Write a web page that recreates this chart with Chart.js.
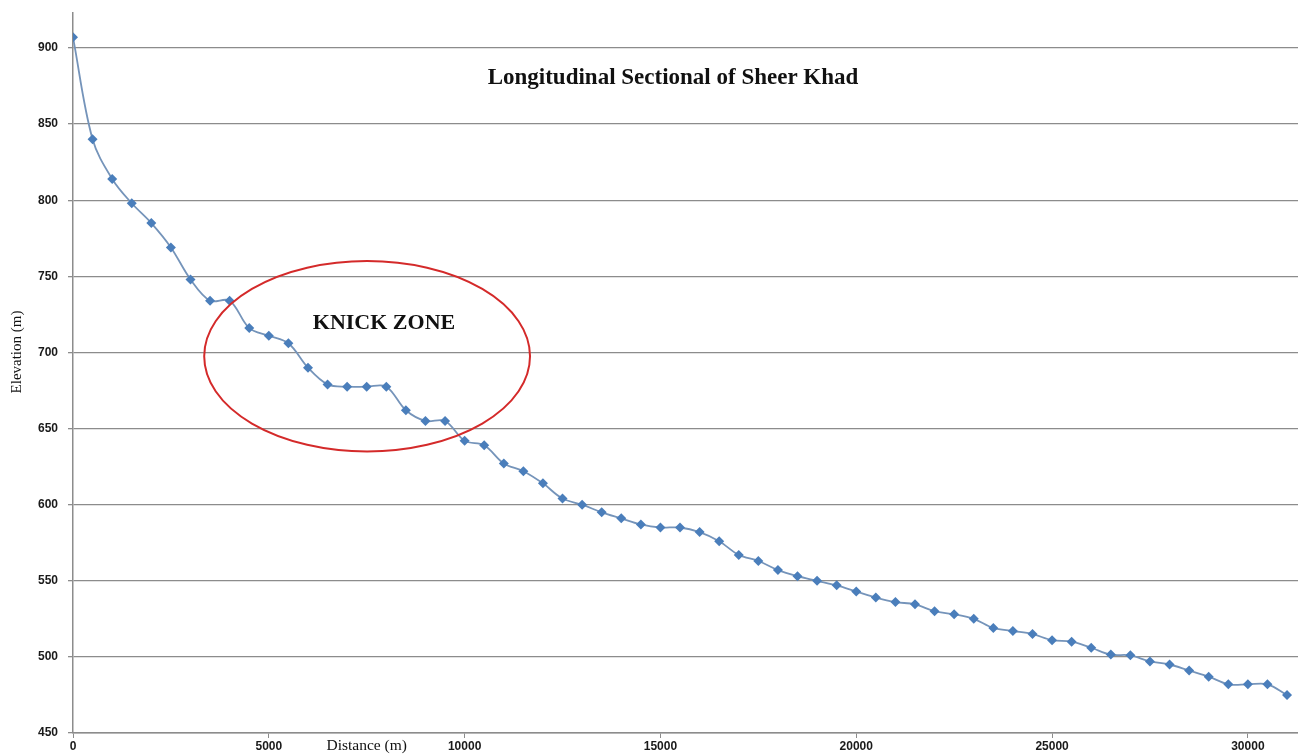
<!DOCTYPE html>
<html>
<head>
<meta charset="utf-8">
<script src="https://cdn.jsdelivr.net/npm/chart.js@4"></script>
<style>
  html, body { margin: 0; padding: 0; background: #fff; }
  #wrap { width: 1298px; height: 754px; position: relative; }
</style>
</head>
<body>
<div id="wrap"><canvas id="profile"></canvas></div>
<script>
// distance along the stream (m), one point every 500 m
const distances = [
  0, 500, 1000, 1500, 2000, 2500, 3000, 3500, 4000, 4500,
  5000, 5500, 6000, 6500, 7000, 7500, 8000, 8500, 9000, 9500,
  10000, 10500, 11000, 11500, 12000, 12500, 13000, 13500, 14000, 14500,
  15000, 15500, 16000, 16500, 17000, 17500, 18000, 18500, 19000, 19500,
  20000, 20500, 21000, 21500, 22000, 22500, 23000, 23500, 24000, 24500,
  25000, 25500, 26000, 26500, 27000, 27500, 28000, 28500, 29000, 29500,
  30000, 30500, 31000,
];

// elevation (m)
const elevations = [
  907, 840, 814, 798, 785, 769, 748, 734, 734, 716,
  711, 706, 690, 679, 677.5, 677.5, 677.5, 662, 655, 655,
  642, 639, 627, 622, 614, 604, 600, 595, 591, 587,
  585, 585, 582, 576, 567, 563, 557, 553, 550, 547,
  543, 539, 536, 534.5, 530, 528, 525, 519, 517, 515,
  511, 510, 506, 501.5, 501, 497, 495, 491, 487, 482,
  482, 482, 475,
];

const xTicks = [0, 5000, 10000, 15000, 20000, 25000, 30000];
const yTicks = [450, 500, 550, 600, 650, 700, 750, 800, 850, 900];

const CHART_TITLE = "Longitudinal Sectional of Sheer Khad";
const ZONE_LABEL = "KNICK ZONE";
const X_TITLE = "Distance (m)";
const Y_TITLE = "Elevation (m)";

// knick zone ellipse, in data units
const zoneCenter = { x: 7510, y: 697.5 };
const zoneRadius = { x: 4160, y: 62.5 };

const SERIF = "'Liberation Serif', 'DejaVu Serif', serif";
const SANS = "'Liberation Sans', Arial, sans-serif";

// titles and the knick-zone ellipse drawn on top of the plot
const annotations = {
  id: "annotations",
  afterDatasetsDraw(chart) {
    const { ctx, scales: { x, y } } = chart;
    ctx.save();

    // ellipse
    const cx = x.getPixelForValue(zoneCenter.x);
    const cy = y.getPixelForValue(zoneCenter.y);
    const rx = x.getPixelForValue(zoneCenter.x + zoneRadius.x) - cx;
    const ry = cy - y.getPixelForValue(zoneCenter.y + zoneRadius.y);
    ctx.beginPath();
    ctx.ellipse(cx, cy, rx, ry, 0, 0, Math.PI * 2);
    ctx.strokeStyle = "#d42a2a";
    ctx.lineWidth = 2;
    ctx.stroke();

    ctx.fillStyle = "#111";
    ctx.textAlign = "center";
    ctx.textBaseline = "middle";

    ctx.font = `bold 23px ${SERIF}`;
    ctx.fillText(CHART_TITLE, 673, 78);
    ctx.font = `bold 22px ${SERIF}`;
    ctx.fillText(ZONE_LABEL, 384, 323);

    ctx.font = `15.5px ${SERIF}`;
    ctx.fillText(X_TITLE, x.getPixelForValue(7500), 746);

    ctx.font = `15px ${SERIF}`;
    ctx.translate(17, 352);
    ctx.rotate(-Math.PI / 2);
    ctx.fillText(Y_TITLE, 0, 0);

    ctx.restore();
  },
};

const ctx = document.getElementById("profile").getContext("2d");

new Chart(ctx, {
  type: "line",
  data: {
    datasets: [
      {
        label: "Elevation",
        data: distances.map((d, i) => ({ x: d, y: elevations[i] })),
        borderColor: "#7594ba",
        borderWidth: 1.8,
        tension: 0.35,
        pointStyle: "rectRot",
        pointRadius: 5,
        pointBackgroundColor: "#4a7ebb",
        pointBorderColor: "#4a7ebb",
        pointBorderWidth: 0,
      },
    ],
  },
  options: {
    responsive: true,
    maintainAspectRatio: false,
    animation: false,
    layout: {
      autoPadding: false,
      padding: { top: 13, right: 0, left: 0, bottom: 0 },
    },
    plugins: {
      legend: { display: false },
      tooltip: { enabled: false },
    },
    scales: {
      x: {
        type: "linear",
        min: 0,
        max: 31280,
        afterBuildTicks: (scale) => {
          scale.ticks = xTicks.map((v) => ({ value: v }));
        },
        afterFit: (scale) => {
          scale.height = 21;
          scale.paddingLeft = 0;
          scale.paddingRight = 0;
        },
        border: { display: true, color: "#8c8c8c", width: 1.5 },
        grid: {
          drawOnChartArea: false,
          drawTicks: true,
          tickLength: 5,
          color: "#8c8c8c",
        },
        ticks: {
          padding: 1,
          maxRotation: 0,
          autoSkip: false,
          color: "#1a1a1a",
          font: { family: SANS, size: 12, weight: "bold" },
          callback: (value) => String(value),
        },
      },
      y: {
        type: "linear",
        min: 450,
        max: 923,
        afterBuildTicks: (scale) => {
          scale.ticks = yTicks.map((v) => ({ value: v }));
        },
        afterFit: (scale) => {
          scale.width = 73;
          scale.paddingTop = 0;
          scale.paddingBottom = 0;
        },
        border: { display: true, color: "#8c8c8c", width: 1.5 },
        grid: {
          color: "#8c8c8c",
          lineWidth: 1.3,
          drawTicks: true,
          tickLength: 5,
        },
        ticks: {
          padding: 10,
          color: "#1a1a1a",
          font: { family: SANS, size: 12, weight: "bold" },
          callback: (value) => String(value),
        },
      },
    },
  },
  plugins: [annotations],
});
</script>
</body>
</html>
